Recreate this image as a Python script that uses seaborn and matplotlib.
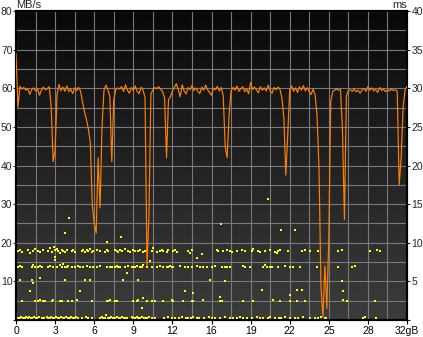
import numpy as np
import pandas as pd
import matplotlib
matplotlib.use("Agg")
import matplotlib.pyplot as plt
import seaborn as sns

sns.set_theme(style="white")
plt.rcParams['font.family'] = ['Liberation Sans', 'DejaVu Sans']

# ---------------- data ----------------
# transfer rate (MB/s), sampled every 0.16 GB from 0 to 32 GB
rate_sample_gb = 0.16
rate_mbs = [
    69, 55, 60.5, 59.8, 60.2, 59.5, 59.9, 58.4, 59.6, 60.1,
    59.3, 59.8, 58.2, 59.5, 60.3, 59.6, 59.9, 60.4, 55.2, 41,
    44, 58.5, 61, 59.4, 60.3, 59.2, 60.6, 59.1, 59.8, 58.6,
    60.1, 59.4, 60.2, 59.3, 56.5, 54, 52, 49.5, 46, 30,
    25, 22.5, 42, 29, 50, 59.5, 60.8, 59.7, 57.8, 41,
    57, 59.6, 60.1, 59.8, 60.4, 59.2, 60.9, 59.5, 58.7, 60.2,
    59.4, 60.6, 59.1, 58.6, 60.3, 59.5, 57.5, 14, 27, 58.5,
    59.6, 60.2, 59.9, 60.4, 59.7, 59.2, 57.4, 42, 57, 57.8,
    59.3, 60.2, 61.2, 59.6, 57.8, 60.9, 59.3, 58.5, 60.2, 59.6,
    60.7, 59.4, 60.1, 59.2, 58.6, 60.3, 59.5, 60.8, 59.6, 58.9,
    58.2, 60.1, 59.6, 60.5, 59.3, 60.2, 58, 45, 42, 53,
    59.3, 60.2, 59.5, 60.6, 59.2, 59.9, 60.4, 59.1, 59.8, 58.6,
    61.5, 59.7, 60.3, 59.6, 58.8, 60.4, 59.5, 60.1, 59.3, 60.8,
    59.4, 58.7, 60.2, 59.6, 60.3, 59.8, 57.5, 52.5, 37.5, 48,
    59.5, 60.6, 59.2, 60.1, 58.9, 60.4, 59.5, 60.7, 59.3, 60.2,
    59.1, 58.4, 59.8, 58.2, 53, 39, 8.5, 0.8, 14, 3,
    21, 56.7, 59.2, 59.5, 59.8, 59.5, 59.6, 49, 26, 58,
    59.4, 59.6, 59.2, 59.8, 59.1, 59.5, 58.7, 59.6, 59.9, 59.2,
    60.4, 59.5, 60.1, 59.3, 59.7, 58.9, 60.2, 59.4, 59.8, 59.1,
    59.6, 59.3, 59.8, 59.4, 59.6, 59.2, 35, 42, 55, 59.5,
    60.5,
]

# access time dots (GB, ms), grouped by band
acc_band_9ms = [
    (0.19, 8.9), (0.33, 9.1), (0.47, 8.8), (1.0, 9.0), (1.15, 8.7), (1.42, 8.9), (1.55, 9.2),
    (1.82, 8.9), (1.96, 8.8), (2.23, 9.0), (2.64, 8.9), (2.78, 9.3), (2.92, 8.8), (3.19, 9.0),
    (3.33, 9.2), (3.46, 8.9), (3.6, 8.7), (3.74, 9.1), (3.87, 8.9), (4.01, 8.8), (4.15, 9.0),
    (4.56, 8.9), (4.69, 9.0), (4.83, 8.8), (5.38, 8.9), (5.51, 9.1), (5.65, 8.8), (5.79, 9.0),
    (5.92, 8.9), (6.06, 9.2), (6.19, 8.8), (6.33, 8.9), (6.6, 9.0), (6.87, 8.9), (7.28, 8.8),
    (7.42, 9.0), (7.55, 8.9), (8.1, 9.1), (8.24, 8.9), (8.37, 8.8), (8.51, 9.0), (8.65, 8.9),
    (8.92, 9.2), (9.19, 8.9), (9.33, 8.8), (9.6, 9.0), (9.74, 8.9), (10.01, 8.9), (10.15, 9.1),
    (10.42, 8.8), (10.56, 8.9), (10.7, 9.0), (11.1, 8.9), (11.24, 9.3), (11.51, 8.8), (11.78, 8.9),
    (11.92, 9.1), (12.05, 8.9), (12.33, 8.8), (12.46, 9.0), (12.87, 8.9), (13.01, 9.1), (13.15, 8.8),
    (14.1, 8.9), (14.24, 8.7), (14.38, 9.0), (15.2, 8.6),
    (16.42, 9.0), (16.55, 8.9), (16.96, 8.9), (17.24, 9.0), (17.51, 8.9), (17.65, 8.8), (18.06, 8.9),
    (18.47, 9.0), (18.74, 8.9), (19.29, 8.9), (19.42, 9.2), (19.83, 8.9), (19.97, 8.8), (20.38, 8.9),
    (20.79, 9.0), (21.19, 8.8), (21.33, 8.7), (21.46, 8.9), (21.6, 9.1), (22.28, 8.9), (23.38, 8.9),
    (23.65, 9.0), (24.06, 8.9), (24.74, 8.9), (26.37, 8.9), (26.65, 9.1), (28.97, 8.9), (29.52, 9.0),
    (29.79, 8.9),
]
acc_band_7ms = [
    (0.19, 6.9), (0.33, 7.0), (0.47, 6.8), (1.28, 6.9), (1.42, 7.1), (1.55, 6.9), (1.82, 6.8),
    (1.96, 7.0), (2.1, 6.9), (2.64, 6.9), (2.78, 7.0), (3.05, 6.8), (3.33, 6.9), (3.6, 7.1),
    (3.74, 6.9), (3.87, 7.2), (4.01, 6.9), (4.15, 6.8), (4.28, 7.0), (4.56, 6.9), (4.83, 6.9),
    (5.1, 7.0), (5.24, 6.8), (5.51, 6.9), (5.79, 7.0), (6.06, 6.9), (6.33, 6.8), (6.6, 6.9),
    (6.87, 7.0), (7.42, 6.9), (7.69, 6.9), (7.83, 6.8), (8.1, 6.9), (8.24, 7.0), (8.37, 6.9),
    (8.51, 6.8), (8.92, 6.9), (9.19, 7.0), (9.47, 6.9), (9.6, 6.9), (9.74, 6.8), (9.88, 7.0),
    (10.15, 6.9), (10.29, 6.9), (10.42, 7.1), (10.7, 6.9), (11.1, 6.8), (11.51, 6.9), (11.78, 7.0),
    (12.05, 6.9), (12.33, 6.9), (12.46, 6.8), (12.6, 7.0), (12.74, 6.9), (12.87, 6.9), (13.42, 7.0),
    (13.83, 6.9), (14.1, 6.8), (14.38, 6.9), (14.79, 7.0), (15.06, 6.9), (15.33, 6.9), (15.6, 6.8),
    (16.01, 6.9), (16.28, 7.0), (16.83, 6.9), (17.1, 6.9), (17.24, 6.8), (17.51, 6.9), (18.6, 7.0),
    (18.74, 6.9), (19.15, 6.9), (20.24, 6.9), (20.38, 7.1), (20.52, 6.9), (20.79, 6.8), (20.92, 6.9),
    (21.46, 6.9), (22.01, 7.0), (22.42, 6.9), (22.69, 6.9), (23.24, 6.8), (24.61, 6.9), (26.37, 6.9),
    (27.47, 6.9), (27.74, 7.0),
]
acc_band_2ms = [
    (0.47, 2.5), (1.55, 2.4), (1.82, 2.5), (1.96, 2.6), (2.23, 2.5), (2.37, 2.4), (2.92, 2.5),
    (3.05, 2.6), (3.6, 2.5), (3.74, 2.4), (4.28, 2.5), (4.56, 2.5), (4.97, 2.6), (6.19, 2.5),
    (7.42, 2.4), (7.55, 2.5), (7.69, 2.6), (8.1, 2.5), (8.24, 2.4), (9.6, 2.5), (9.88, 2.5),
    (10.01, 2.6), (10.7, 2.5), (11.1, 2.4), (11.37, 2.5), (12.05, 2.5), (12.74, 2.6), (12.87, 2.5),
    (13.69, 2.4), (14.38, 2.5), (14.51, 2.5), (15.33, 2.6),
    (16.69, 2.5), (16.83, 2.4), (18.6, 2.5), (19.42, 2.5), (21.05, 2.6), (21.6, 2.5), (22.42, 2.4),
    (22.97, 2.5), (23.65, 2.5), (26.78, 2.6), (27.06, 2.5), (29.38, 2.5),
]
acc_band_0ms = [
    (0.2, 0.3), (0.3, 0.2), (0.45, 0.4), (0.55, 0.25), (0.7, 0.3), (0.8, 0.45), (0.95, 0.2),
    (1.1, 0.35), (1.2, 0.3), (1.35, 0.2), (1.5, 0.4), (1.6, 0.3), (1.75, 0.25), (1.9, 0.35),
    (2.15, 0.3), (2.3, 0.2), (2.5, 0.4), (2.6, 0.3), (2.75, 0.25), (2.9, 0.35), (3.0, 0.2),
    (3.15, 0.3), (3.3, 0.45), (3.4, 0.3), (3.55, 0.2), (3.7, 0.35), (3.85, 0.3), (3.95, 0.25),
    (4.1, 0.4), (4.25, 0.3), (4.4, 0.2), (4.5, 0.35), (4.65, 0.3), (4.8, 0.25), (4.95, 0.4),
    (5.1, 0.3), (5.4, 0.2), (5.7, 0.35), (5.9, 0.3), (6.2, 0.25), (6.9, 0.3), (7.0, 0.4),
    (7.15, 0.2), (7.3, 0.3), (7.4, 0.65), (7.55, 0.3), (7.7, 0.25), (7.8, 0.35), (7.95, 0.3),
    (8.1, 0.2), (8.25, 0.4), (8.4, 0.3), (8.5, 0.25), (8.65, 0.35), (8.8, 0.3), (8.95, 0.2),
    (9.05, 0.3), (9.5, 0.35), (9.6, 0.3), (9.75, 0.2), (9.9, 0.4), (10.0, 0.3), (10.15, 0.25),
    (10.3, 0.35), (10.45, 0.3), (10.6, 0.2), (10.75, 0.3), (10.9, 0.4), (11.1, 0.3), (11.4, 0.25),
    (12.1, 0.3), (12.4, 0.35), (12.8, 0.3), (13.0, 0.2), (13.3, 0.3), (13.6, 0.4), (13.9, 0.3),
    (14.1, 0.25), (14.3, 0.3), (14.5, 0.35), (14.8, 0.3), (15.0, 0.2), (15.4, 0.3), (15.8, 0.35),
    (16.0, 0.3), (16.3, 0.25), (16.7, 0.3), (17.1, 0.35), (17.5, 0.3), (17.8, 0.2), (18.1, 0.3),
    (18.3, 0.4), (18.6, 0.3), (18.9, 0.25), (19.3, 0.3), (19.7, 0.35), (20.0, 0.3), (20.2, 0.2),
    (20.6, 0.3), (20.8, 0.35), (21.2, 0.3), (21.5, 0.25), (21.7, 0.3), (22.0, 0.4), (22.4, 0.3),
    (22.8, 0.25), (23.1, 0.3), (23.5, 0.35), (24.1, 0.3), (24.5, 0.25), (24.7, 0.3), (25.0, 0.35),
    (25.3, 0.3), (25.4, 0.25), (28.4, 0.3), (28.6, 0.35), (29.5, 0.3),
]
acc_outliers = [
    (4.01, 11.2), (4.36, 13.2), (0.33, 5.2), (1.28, 5.2), (1.42, 4.8), (1.96, 5.4), (1.15, 3.7),
    (3.19, 8.2), (3.19, 7.8), (3.13, 9.5), (4.01, 5.2), (5.24, 3.7), (5.65, 5.2), (6.06, 5.2),
    (7.42, 10.1), (8.62, 10.7), (8.78, 5.2), (9.05, 6.1), (10.01, 5.2), (10.29, 1.5), (10.42, 2.8),
    (10.97, 7.6), (13.83, 3.7), (14.51, 3.5), (14.79, 8.0), (20.65, 15.6), (16.78, 12.4),
    (21.68, 11.6), (22.83, 11.6), (20.1, 3.9), (22.97, 3.9), (23.38, 3.9), (22.42, 3.2),
    (16.69, 3.0), (17.1, 5.0), (15.87, 5.2), (26.65, 5.0), (26.78, 3.7),
]

x_tick_pos = [0, 3.2, 6.4, 9.6, 12.8, 16, 19.2, 22.4, 25.6, 28.8, 32]
x_tick_labels = ["0", "3", "6", "9", "12", "16", "19", "22", "25", "28", "32gB"]
left_ticks = [10, 20, 30, 40, 50, 60, 70, 80]
right_ticks = [5, 10, 15, 20, 25, 30, 35, 40]

# ---------------- frames ----------------
rate_df = pd.DataFrame({"gb": np.arange(len(rate_mbs)) * rate_sample_gb, "mbs": rate_mbs})
acc_all = acc_band_9ms + acc_band_7ms + acc_band_2ms + acc_band_0ms + acc_outliers
acc_df = pd.DataFrame(acc_all, columns=["gb", "ms"])

# ---------------- figure ----------------
W, H = 423, 337
fig = plt.figure(figsize=(W / 100, H / 100), dpi=100, facecolor="white")
L, R, T, B = 16, 407, 11, 320
ax = fig.add_axes([L / W, (H - B) / H, (R - L) / W, (B - T) / H])  # ms axis (right)
ax2 = ax.twinx()  # MB/s axis (left)

# background gradient
grad = np.linspace(0.235, 0.035, 256).reshape(-1, 1)
ax.imshow(grad, extent=[0, 32, 0, 40], aspect="auto", cmap="gray", vmin=0, vmax=1,
          origin="lower", zorder=0, interpolation="bilinear")

ax.set_xlim(0, 32)
ax.set_ylim(0, 40)
ax2.set_ylim(0, 80)

# grid
ax.set_xticks(x_tick_pos)
ax.set_xticks([p + 1.6 for p in x_tick_pos[:-1]], minor=True)
ax.set_xticklabels(x_tick_labels)
ax.set_yticks([0] + right_ticks)
ax.set_yticklabels([""] + [str(t) for t in right_ticks])
ax.set_yticks([t - 2.5 for t in right_ticks], minor=True)
ax.grid(True, which="both", color="#7a7a7a", linewidth=0.8, zorder=1)
ax.set_axisbelow(False)
for gl in ax.get_xgridlines() + ax.get_ygridlines():
    gl.set_zorder(1)

# access time dots
sns.scatterplot(data=acc_df, x="gb", y="ms", ax=ax, marker="s", s=2.2, color="#ffff00",
                linewidth=0, zorder=3, legend=False)

# transfer rate line
sns.lineplot(data=rate_df, x="gb", y="mbs", ax=ax2, color="#ff8000", linewidth=0.85,
             estimator=None, sort=False, zorder=4, legend=False)

ax2.set_yticks([0] + left_ticks)
ax2.set_yticklabels([""] + [str(t) for t in left_ticks])
ax2.yaxis.tick_left()
ax.yaxis.tick_right()
ax.set_xlabel("")
ax.set_ylabel("")
ax2.set_xlabel("")
ax2.set_ylabel("")

fs = 7.5
ax.tick_params(axis="x", which="major", length=3, width=0.8, pad=1.5, labelsize=fs,
               colors="black", direction="out", bottom=True)
ax.tick_params(axis="x", which="minor", length=0)
ax.tick_params(axis="y", which="major", length=2.5, width=0.8, pad=0.8, labelsize=fs,
               direction="out", right=True, left=False, labelright=True, labelleft=False)
ax.tick_params(axis="y", which="minor", length=0)
ax2.tick_params(axis="y", which="major", length=2.2, width=0.8, pad=0.3, labelsize=fs,
                direction="out", left=True, right=False, labelleft=True, labelright=False)

for a in (ax, ax2):
    for sp in a.spines.values():
        sp.set_color("black")
        sp.set_linewidth(1.5)
        sp.set_visible(True)

fig.text(L / W, 1 - 8.5 / H, "MB/s", ha="left", va="baseline", fontsize=fs + 0.5)
fig.text(R / W, 1 - 8.5 / H, "ms", ha="right", va="baseline", fontsize=fs + 0.5)

fig.savefig("out.png", dpi=100, facecolor="white")
